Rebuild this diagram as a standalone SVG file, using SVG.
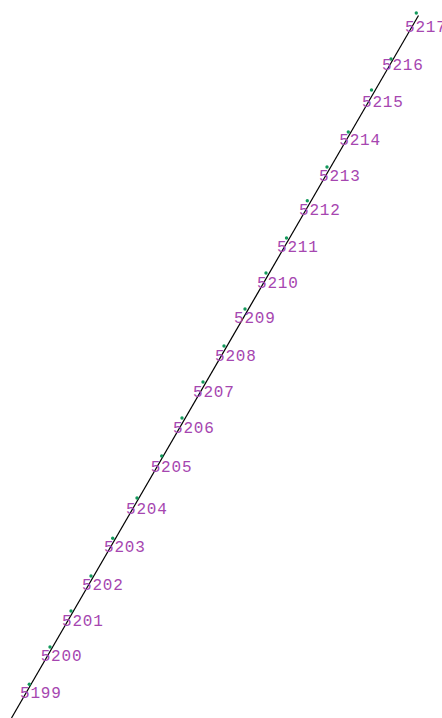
<svg xmlns="http://www.w3.org/2000/svg" width="442" height="718" viewBox="0 0 442 718">
<style>
.lbl{font-family:"Liberation Mono","DejaVu Sans Mono",monospace;font-size:16px;letter-spacing:0.8px;fill:#a646b0}
.pt{fill:#139a5c}
.ln{stroke:#000;stroke-width:1.2;fill:none}
</style>
<rect width="442" height="718" fill="#fff"/>
<g id="connectors">
<line class="ln" x1="11.5" y1="718" x2="418.5" y2="15.5"/>
</g>
<g id="n5217"><circle class="pt" cx="416.3" cy="13" r="1.7"/><text class="lbl" x="405" y="32">5217</text></g>
<g id="n5216"><circle class="pt" cx="391" cy="59" r="1.7"/><text class="lbl" x="382" y="70">5216</text></g>
<g id="n5215"><circle class="pt" cx="371.5" cy="90" r="1.7"/><text class="lbl" x="362" y="106.5">5215</text></g>
<g id="n5214"><circle class="pt" cx="348.3" cy="132" r="1.7"/><text class="lbl" x="339.3" y="145">5214</text></g>
<g id="n5213"><circle class="pt" cx="327" cy="167" r="1.7"/><text class="lbl" x="319" y="180.5">5213</text></g>
<g id="n5212"><circle class="pt" cx="307.3" cy="200.7" r="1.7"/><text class="lbl" x="299" y="215">5212</text></g>
<g id="n5211"><circle class="pt" cx="286.5" cy="238" r="1.7"/><text class="lbl" x="277" y="251.5">5211</text></g>
<g id="n5210"><circle class="pt" cx="266" cy="273" r="1.7"/><text class="lbl" x="257" y="287.5">5210</text></g>
<g id="n5209"><circle class="pt" cx="245" cy="309" r="1.7"/><text class="lbl" x="234" y="323">5209</text></g>
<g id="n5208"><circle class="pt" cx="224" cy="346" r="1.7"/><text class="lbl" x="215" y="360.5">5208</text></g>
<g id="n5207"><circle class="pt" cx="203" cy="382" r="1.7"/><text class="lbl" x="193" y="396.5">5207</text></g>
<g id="n5206"><circle class="pt" cx="182" cy="418" r="1.7"/><text class="lbl" x="173" y="432.5">5206</text></g>
<g id="n5205"><circle class="pt" cx="161.7" cy="456" r="1.7"/><text class="lbl" x="150.7" y="472">5205</text></g>
<g id="n5204"><circle class="pt" cx="137" cy="498" r="1.7"/><text class="lbl" x="126" y="514">5204</text></g>
<g id="n5203"><circle class="pt" cx="112.7" cy="538.3" r="1.7"/><text class="lbl" x="104" y="552">5203</text></g>
<g id="n5202"><circle class="pt" cx="91" cy="576" r="1.7"/><text class="lbl" x="82" y="589.5">5202</text></g>
<g id="n5201"><circle class="pt" cx="71" cy="611" r="1.7"/><text class="lbl" x="62" y="625.5">5201</text></g>
<g id="n5200"><circle class="pt" cx="50" cy="647" r="1.7"/><text class="lbl" x="40.7" y="661">5200</text></g>
<g id="n5199"><circle class="pt" cx="29.3" cy="684.3" r="1.7"/><text class="lbl" x="20" y="698">5199</text></g>
</svg>
